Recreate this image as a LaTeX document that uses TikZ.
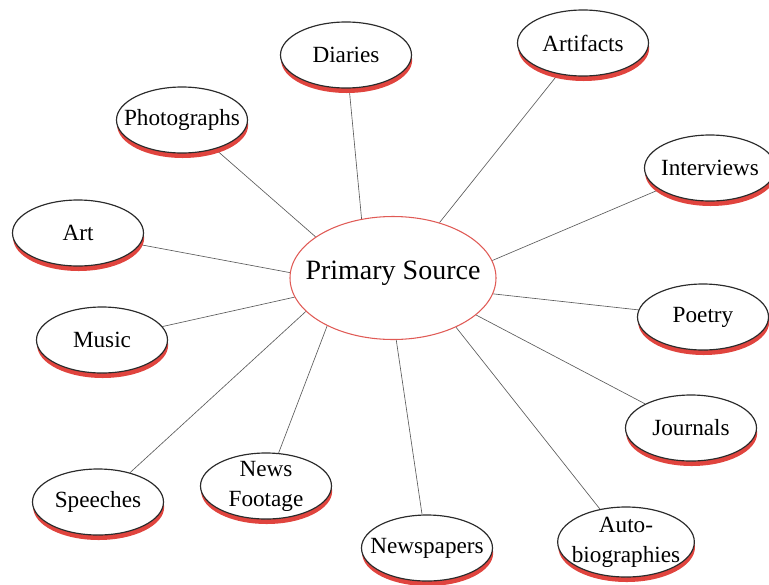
\documentclass[tikz,border=0pt]{standalone}
\usepackage{fontspec}
\setmainfont{Liberation Serif}
\usetikzlibrary{shapes.geometric,shadows,backgrounds}
\definecolor{psred}{HTML}{E05A55}
\definecolor{psshadow}{HTML}{E0443E}
\definecolor{psink}{HTML}{2B2B2B}
\definecolor{psline}{HTML}{5A5A5A}
\newcommand{\srcfont}{\fontsize{19.8}{25.5}\selectfont}
\newcommand{\hubfont}{\fontsize{23.9}{28}\selectfont}
\tikzset{
  src/.style={ellipse, draw=psink, line width=1pt, fill=white, minimum width=3.93cm, minimum height=1.98cm,
    inner xsep=-3cm, inner ysep=-2cm, align=center, font=\srcfont,
    general shadow={fill=psshadow, shadow xshift=0.02cm, shadow yshift=-0.15cm}},
  hub/.style={ellipse, draw=psred, line width=0.9pt, fill=white, minimum width=6.18cm, minimum height=3.69cm,
    inner xsep=-4cm, inner ysep=-3cm, font=\hubfont},
  lnk/.style={draw=psline, line width=0.55pt},
}

\begin{document}
\begin{tikzpicture}[x=0.03cm, y=-0.03cm]
  \useasboundingbox (0,0) rectangle (769,584);
  % hub
  \node[hub] (ps) at (393,278) {\raisebox{0.46cm}{Primary Source}};
  % kinds of primary sources
  \node[src] (photo) at (182,120) {Photographs};
  \node[src] (diaries) at (346,55) {Diaries};
  \node[src] (artifacts) at (583,43) {Artifacts};
  \node[src] (interviews) at (710,168) {Interviews};
  \node[src] (art) at (78,233) {Art};
  \node[src] (poetry) at (703,317) {Poetry};
  \node[src] (music) at (102,340) {Music};
  \node[src] (journals) at (691,428) {Journals};
  \node[src] (speeches) at (98,502) {Speeches};
  \node[src] (news) at (266,486) {News\\Footage};
  \node[src] (papers) at (427,548) {Newspapers};
  \node[src, minimum width=4.1cm, minimum height=2.1cm] (autobio) at (626,542) {Auto-\\biographies};
  \begin{scope}[on background layer]
    \draw[lnk] (photo) -- (ps.152.9); \draw[lnk] (diaries) -- (ps.118.5); \draw[lnk] (artifacts) -- (ps.50.1);
    \draw[lnk] (interviews) -- (ps.10.9); \draw[lnk] (art) -- (ps.177.2); \draw[lnk] (poetry) -- (ps.-9);
    \draw[lnk] (music) -- (ps.191); \draw[lnk] (speeches) -- (ps.201.9); \draw[lnk] (news) -- (ps.216.6);
    \draw[lnk] (papers) -- (ps.273.7); \draw[lnk] (autobio) -- (ps.322.1); \draw[lnk] (journals) -- (ps.336.5);
  \end{scope}
\end{tikzpicture}
\end{document}
